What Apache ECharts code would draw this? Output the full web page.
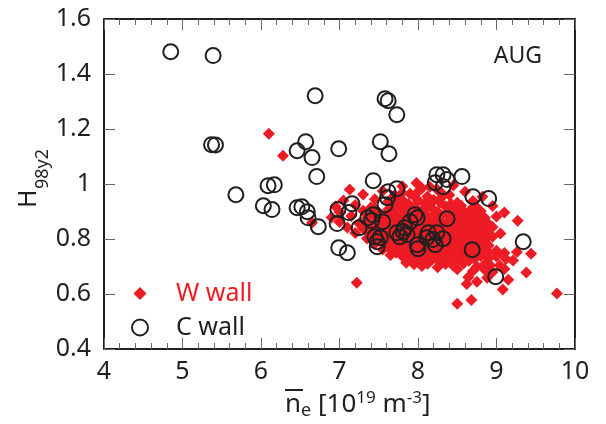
<!DOCTYPE html>
<html><head><meta charset="utf-8">
<script src="https://cdn.jsdelivr.net/npm/echarts@6/dist/echarts.min.js"></script>
<style>html,body{margin:0;padding:0;background:#fff}#c{width:606px;height:424px}</style>
</head><body><div id="c"></div>
<script>
// C wall (open circles)
const cWallX = [4.85,5.39,6.69,7.58,7.62,7.73,5.37,5.42,6.46,6.57,6.65,6.99,7.52,7.63,6.71,7.43,
  5.68,6.09,6.17,6.03,6.14,6.46,6.52,6.59,6.60,6.73,6.98,7.16,7.12,6.97,7.25,7.36,7.43,7.41,7.55,
  6.99,7.10,7.62,7.61,7.58,7.73,8.24,8.32,8.37,8.22,8.32,8.56,8.70,8.90,7.96,7.99,7.90,8.37,
  7.73,7.83,7.86,7.77,7.81,7.45,7.48,7.48,7.52,8.13,8.11,8.19,8.24,8.32,7.99,8.00,8.22,8.69,9.34,8.99];
const cWallY = [1.481,1.467,1.321,1.310,1.303,1.252,1.143,1.142,1.121,1.154,1.096,1.128,1.154,1.110,1.027,1.012,
  0.961,0.994,0.997,0.921,0.907,0.914,0.917,0.899,0.877,0.845,0.907,0.928,0.896,0.856,0.841,0.877,0.888,0.867,0.863,
  0.768,0.750,0.972,0.950,0.925,0.983,1.034,1.034,1.016,1.005,0.990,1.027,0.954,0.947,0.888,0.877,0.863,0.874,
  0.823,0.841,0.816,0.808,0.827,0.808,0.790,0.772,0.805,0.823,0.805,0.798,0.823,0.801,0.779,0.765,0.779,0.761,0.790,0.663];
// W wall (filled diamonds), listed roughly row by row
const wWallX = [6.10,6.28,6.65,7.22,9.77,8.50,8.68,
  7.98,8.45, 7.80,8.15,
  7.13,7.55,8.05,8.25,8.60, 7.80,8.00,8.30,
  7.30,7.70,7.90,8.12,8.40,8.82, 7.70,7.98,8.30,
  7.05,7.45,7.62,7.80,8.00,8.20,8.50,8.70, 7.68,7.88,8.08,8.28,8.42,
  6.95,7.20,7.40,7.75,7.95,8.15,8.35,8.55,8.75,8.95, 7.45,7.62,7.80,7.98,8.10,8.20,8.40,8.50,8.68,
  7.00,7.30,7.50,7.70,7.85,8.05,8.25,8.45,8.60,8.80,9.10, 7.42,7.62,7.80,7.96,8.10,8.24,8.38,8.55,8.72,
  6.90,7.15,7.35,7.55,7.72,7.90,8.02,8.18,8.30,8.48,8.65,8.85,9.00, 7.52,7.70,7.86,8.00,8.14,8.28,8.44,8.60,8.78,
  7.00,7.25,7.45,7.62,7.80,7.95,8.08,8.22,8.38,8.52,8.70,8.90,9.27, 7.38,7.55,7.72,7.90,8.04,8.18,8.34,8.48,8.65,8.82,
  7.10,7.30,7.50,7.68,7.85,7.98,8.12,8.28,8.42,8.58,8.75,8.95, 7.45,7.62,7.80,7.95,8.08,8.22,8.36,8.52,8.70,8.88,
  7.20,7.38,7.55,7.72,7.88,8.02,8.15,8.30,8.45,8.62,8.80,9.05, 7.42,7.60,7.75,7.86,8.00,8.12,8.28,8.42,8.58,8.75,8.95,
  7.35,7.50,7.65,7.80,7.92,8.05,8.20,8.35,8.50,8.65,8.85, 7.55,7.70,7.85,7.96,8.08,8.18,8.30,8.45,8.60,8.78,
  7.45,7.60,7.75,7.88,8.00,8.12,8.25,8.40,8.55,8.70,8.90, 7.62,7.78,7.92,8.04,8.16,8.30,8.42,8.56,8.70,8.85,
  7.55,7.70,7.85,7.98,8.10,8.22,8.35,8.50,8.62,8.80,9.00, 7.72,7.90,8.02,8.14,8.28,8.40,8.55,8.70,8.90,9.10,
  7.65,7.80,7.95,8.08,8.20,8.32,8.45,8.60,8.80,9.00,9.26,9.44, 7.90,8.08,8.22,8.38,8.55,8.72,8.90,9.12,
  7.85,8.00,8.15,8.30,8.48,8.65,9.21, 7.95,8.12,8.35,8.58,8.85,
  8.05,8.25,8.45,8.75,8.92,9.04, 8.50,8.85,9.10,
  8.70,8.95,9.38,
  8.64,8.88,9.15,
  8.62,8.75,
  9.08];
const wWallY = [1.183,1.103,0.859,0.641,0.602,0.565,0.578,
  1.004,0.995, 0.992,0.990,
  0.980,0.975,0.985,0.978,0.972, 0.968,0.972,0.967,
  0.962,0.958,0.965,0.955,0.960,0.954, 0.952,0.947,0.951,
  0.940,0.945,0.936,0.943,0.938,0.942,0.932,0.938, 0.932,0.927,0.930,0.933,0.928,
  0.918,0.924,0.915,0.922,0.916,0.925,0.918,0.921,0.915,0.920, 0.910,0.907,0.912,0.909,0.910,0.906,0.911,0.908,0.909,
  0.898,0.903,0.896,0.902,0.897,0.905,0.899,0.902,0.895,0.901,0.896, 0.891,0.887,0.889,0.892,0.888,0.890,0.887,0.891,0.889,
  0.878,0.884,0.876,0.882,0.879,0.885,0.876,0.881,0.886,0.878,0.883,0.877,0.882, 0.871,0.869,0.872,0.868,0.870,0.867,0.871,0.869,0.868,
  0.862,0.856,0.861,0.858,0.864,0.857,0.862,0.856,0.863,0.858,0.861,0.855,0.866, 0.848,0.851,0.849,0.852,0.848,0.850,0.847,0.851,0.849,0.848,
  0.842,0.838,0.845,0.839,0.843,0.836,0.841,0.846,0.838,0.842,0.837,0.844, 0.828,0.831,0.829,0.832,0.828,0.830,0.827,0.831,0.829,0.828,
  0.822,0.817,0.824,0.818,0.823,0.816,0.821,0.825,0.818,0.822,0.817,0.820, 0.810,0.808,0.811,0.809,0.812,0.808,0.810,0.807,0.811,0.809,0.808,
  0.802,0.797,0.803,0.798,0.804,0.796,0.801,0.805,0.798,0.802,0.796, 0.790,0.788,0.791,0.789,0.792,0.788,0.790,0.787,0.791,0.789,
  0.782,0.777,0.783,0.778,0.784,0.776,0.781,0.785,0.778,0.782,0.776, 0.770,0.768,0.771,0.769,0.772,0.768,0.770,0.767,0.771,0.769,
  0.762,0.757,0.763,0.758,0.764,0.756,0.761,0.765,0.758,0.762,0.757, 0.750,0.748,0.751,0.749,0.752,0.748,0.750,0.747,0.751,0.749,
  0.742,0.737,0.743,0.738,0.744,0.736,0.741,0.745,0.738,0.736,0.753,0.746, 0.730,0.728,0.731,0.729,0.732,0.728,0.730,0.727,
  0.714,0.722,0.717,0.723,0.716,0.721,0.722, 0.708,0.710,0.709,0.711,0.708,
  0.702,0.697,0.703,0.700,0.705,0.704, 0.690,0.688,0.691,
  0.684,0.680,0.678,
  0.661,0.659,0.652,
  0.636,0.645,
  0.616];
const seriesNames = ['W wall', 'C wall'];
const xRange = [4, 10], xStep = 1;
const yRange = [0.4, 1.6], yStep = 0.2;

const RED = '#ed1c24', INK = '#231f20', FONT = 'Noto Sans';
const zip = (a, b) => a.map((v, i) => [v, b[i]]);

const axisCommon = {
  axisLine: { show: true, lineStyle: { color: INK, width: 2 } },
  axisTick: { show: true, inside: true, length: 11, lineStyle: { color: '#666', width: 1 } },
  splitLine: { show: false }
};
const chart = echarts.init(document.getElementById('c'), null, { renderer: 'canvas' });
chart.setOption({
  animation: false,
  backgroundColor: '#fff',
  grid: { left: 104, right: 31, top: 19, bottom: 75, containLabel: false },
  xAxis: [
    Object.assign({ type: 'value', min: xRange[0], max: xRange[1], interval: xStep, position: 'bottom',
      minorTick: { show: true, splitNumber: 5, length: 6, lineStyle: { color: '#666', width: 1 } },
      axisLabel: { color: INK, fontSize: 25, fontFamily: FONT, margin: 10 } }, axisCommon),
    Object.assign({ type: 'value', min: xRange[0], max: xRange[1], interval: xStep, position: 'top',
      minorTick: { show: true, splitNumber: 5, length: 6, lineStyle: { color: '#666', width: 1 } },
      axisLabel: { show: false } }, axisCommon)
  ],
  yAxis: [
    Object.assign({ type: 'value', min: yRange[0], max: yRange[1], interval: yStep, position: 'left',
      axisLabel: { color: INK, fontSize: 25, fontFamily: FONT, margin: 13 } }, axisCommon),
    Object.assign({ type: 'value', min: yRange[0], max: yRange[1], interval: yStep, position: 'right',
      axisLabel: { show: false } }, axisCommon)
  ],
  legend: {
    orient: 'vertical', left: 126, top: 276, itemWidth: 16, itemHeight: 16, itemGap: 9,
    textStyle: { fontSize: 25, fontFamily: FONT, lineHeight: 24, padding: [0, 0, 0, 23] },
    data: [
      { name: seriesNames[0], icon: 'path://M0,0M16,16M8,1.5L14.5,8L8,14.5L1.5,8Z', textStyle: { color: RED } },
      { name: seriesNames[1], icon: 'circle', textStyle: { color: INK } }
    ]
  },
  series: [
    { name: seriesNames[0], type: 'scatter', symbol: 'diamond', symbolSize: 12,
      itemStyle: { color: RED, opacity: 1 }, data: zip(wWallX, wWallY), z: 2 },
    { name: seriesNames[1], type: 'scatter', symbol: 'circle', symbolSize: 15,
      itemStyle: { color: 'rgba(0,0,0,0)', borderColor: INK, borderWidth: 2, opacity: 1 },
      data: zip(cWallX, cWallY), z: 3 }
  ],
  graphic: [
    { type: 'text', x: 542, y: 56, style: { text: 'AUG', font: '23px "Noto Sans"', fill: INK, align: 'right', verticalAlign: 'middle' } },
    { type: 'text', x: 41, y: 208, rotation: Math.PI / 2, style: { text: 'H', font: '25px "Noto Sans"', fill: INK, align: 'left', verticalAlign: 'bottom' } },
    { type: 'text', x: 52, y: 189, rotation: Math.PI / 2, style: { text: '98y2', font: '18px "Noto Sans"', fill: INK, align: 'left', verticalAlign: 'bottom' } },
    { type: 'line', shape: { x1: 285, y1: 390, x2: 303, y2: 390 }, style: { stroke: INK, lineWidth: 2 } },
    { type: 'text', x: 285, y: 405, style: {
        text: '{t|n}{sub|e}{t| [10}{sup|19}{t| m}{sup|-3}{t|]}',
        fill: INK, align: 'left', verticalAlign: 'middle',
        rich: {
          t: { fontSize: 26, fontFamily: FONT, lineHeight: 30, fill: INK },
          sub: { fontSize: 18, fontFamily: FONT, lineHeight: 18, verticalAlign: 'bottom', fill: INK },
          sup: { fontSize: 17, fontFamily: FONT, lineHeight: 17, verticalAlign: 'top', fill: INK }
        } } }
  ]
});
</script></body></html>
